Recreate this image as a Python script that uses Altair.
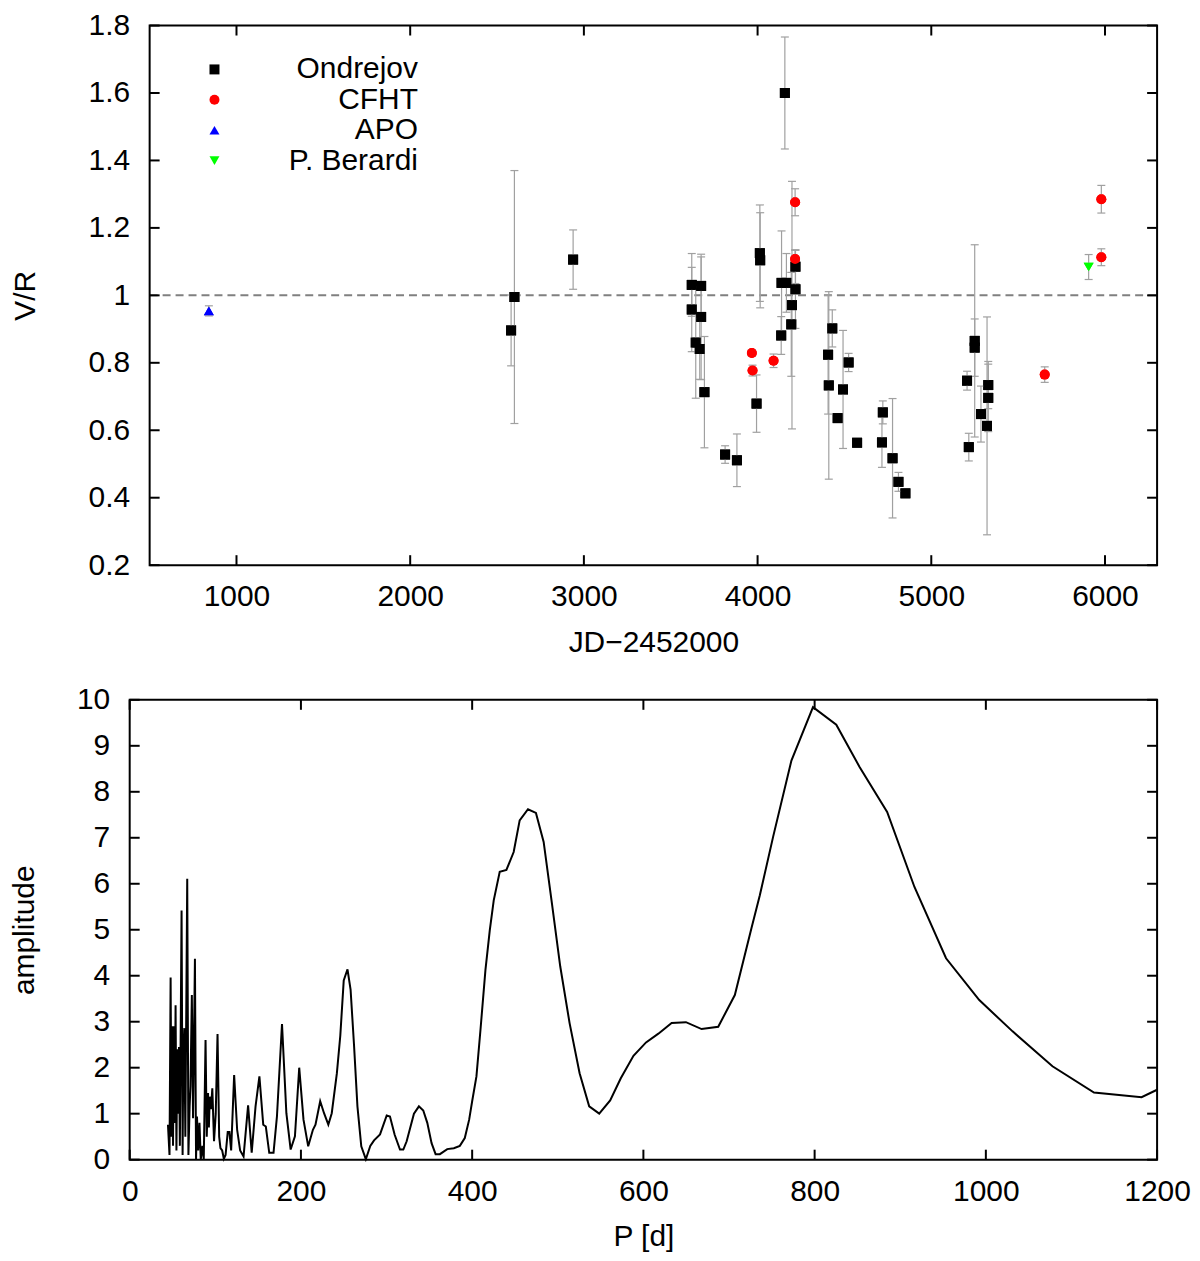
import altair as alt
import pandas as pd

# ---------------- top panel data ----------------
ond_jd = [2581, 2600, 2938, 3621, 3675, 3621, 3675, 3644, 3667, 3694, 3813, 3881, 3994,
          4013, 4015, 4136, 4138, 4166, 4157, 4218, 4218, 4198, 4194, 4406, 4410, 4430,
          4461, 4492, 4524, 4573, 4721, 4716, 4777, 4811, 4851, 5206, 5216, 5250, 5250,
          5286, 5328, 5328, 5321]
ond_vr = [0.896, 0.995, 1.106, 1.031, 1.028, 0.958, 0.936, 0.860, 0.841, 0.713, 0.528, 0.511,
          0.679, 1.125, 1.104, 0.881, 1.037, 1.037, 1.600, 1.085, 1.018, 0.971, 0.914, 0.824,
          0.733, 0.902, 0.636, 0.721, 0.801, 0.563, 0.653, 0.564, 0.517, 0.447, 0.413, 0.747,
          0.550, 0.865, 0.845, 0.648, 0.734, 0.696, 0.613]
ond_err = [0.105, 0.375, 0.088, 0.093, 0.086, 0.125, 0.186, 0.165, 0.09, 0.165, 0.026, 0.078,
           0.085, 0.143, 0.141, 0.056, 0.154, 0.087, 0.166, 0.05, 0.116, 0.367, 0.154, 0.176,
           0.278, 0.055, 0.01, 0.175, 0.027, 0.005, 0.034, 0.074, 0.177, 0.028, 0.01, 0.028,
           0.041, 0.285, 0.085, 0.083, 0.07, 0.1, 0.323]

cfht_jd = [3967, 3971, 4092, 4216, 4216, 5653, 5979, 5979]
cfht_vr = [0.829, 0.777, 0.806, 1.276, 1.108, 0.765, 1.285, 1.113]
cfht_err = [0.01, 0.016, 0.02, 0.04, 0.026, 0.023, 0.041, 0.025]

apo_jd = [841]
apo_vr = [0.954]
apo_err = [0.015]

ber_jd = [5906]
ber_vr = [1.084]
ber_err = [0.037]

sources = ["Ondrejov", "CFHT", "APO", "P. Berardi"]
src_colors = ["#000000", "#ff0000", "#0000ff", "#00ff00"]
src_shapes = ["square", "circle", "triangle-up", "triangle-down"]

top_xticks = [1000, 2000, 3000, 4000, 5000, 6000]
top_yticks = [0.2, 0.4, 0.6, 0.8, 1.0, 1.2, 1.4, 1.6, 1.8]

# ---------------- bottom panel data ----------------
per_p = [44.7, 46.5, 47.8, 48.8, 49.6, 50.6, 51.6, 52.6, 53.6, 54.6, 55.6, 56.6, 57.6, 58.6,
         60.6, 61.8, 62.6, 63.8, 65.0, 67.2, 68.6, 70.0, 71.0, 72.6, 74.0, 76.2, 77.5, 78.6,
         80.0, 81.5, 83.0, 85.0, 86.5, 88.6, 90.0, 91.5, 92.5, 93.5, 95.0, 96.5, 98.5, 100.5,
         102.6, 104.5, 106, 108, 110, 112, 114.5, 116.5, 118.5, 122, 125.5, 129, 133, 138.3,
         142.5, 147, 151.5, 156, 159, 163, 168, 172, 177.9, 183, 188, 193, 198, 203, 208.5,
         214, 217, 222.5, 227, 232, 236, 242, 246, 250, 254.4, 258, 262, 266, 270.5, 275.8,
         281, 285.4, 292.4, 300.2, 304, 309.5, 315.7, 319.6, 323.5, 332, 337.8, 342.9, 347.6,
         352.6, 357.3, 362.3, 370.9, 378.6, 385.6, 391.4, 396.5, 400, 405, 409.7, 415.5,
         420.6, 425.2, 432.2, 440, 448.5, 455.5, 465.2, 474.5, 483.5, 493.2, 502.9, 513.8,
         525.5, 536.7, 548.4, 561.2, 573.6, 588.4, 603.1, 617.5, 633, 649.7, 668, 687.4,
         706.8, 726.2, 736, 751.5, 772.9, 798.1, 825.3, 852.5, 884.7, 916.6, 953.5, 992.3,
         1031.2, 1077.8, 1126.3, 1181.9, 1200]
per_amp = [0.76, 0.1, 3.96, 0.5, 2.9, 0.3, 2.9, 0.8, 3.36, 0.2, 2.4, 1.0, 2.45, 0.3,
           5.42, 0.1, 2.2, 2.86, 0.5, 6.11, 0.1, 1.16, 1.6, 3.58, 0.9, 4.37, 0.0, 0.94,
           0.2, 0.8, 0.0, 0.3, 0.0, 2.6, 0.5, 1.45, 0.7, 1.37, 1.1, 1.55, 0.4, 1.0,
           2.73, 0.5, 0.25, 0.2, 0.02, 0.1, 0.6, 0.6, 0.2, 1.84, 0.65, 0.2, 0.07, 1.18,
           0.15, 1.16, 1.81, 0.76, 0.72, 0.15, 0.15, 0.94, 2.95, 1.01, 0.22, 0.51, 2.0, 0.87, 0.29,
           0.65, 0.76, 1.27, 1.01, 0.76, 1.01, 1.88, 2.7, 3.9, 4.14, 3.7, 2.5, 1.16, 0.29, 0.01,
           0.3, 0.42, 0.55, 0.96, 0.94, 0.54, 0.22, 0.22, 0.40, 1.0, 1.16, 1.07, 0.80,
           0.36, 0.12, 0.12, 0.23, 0.25, 0.30, 0.47, 0.87, 1.27, 1.81, 2.82, 4.12,
           4.99, 5.64, 6.26, 6.30, 6.69, 7.38, 7.62, 7.54, 6.91, 5.57, 4.20, 2.97,
           1.88, 1.16, 1.0, 1.29, 1.77, 2.26, 2.55, 2.74, 2.97, 2.99, 2.84, 2.89,
           3.58, 5.03, 5.75, 7.02, 8.68, 9.84, 9.46, 8.54, 7.56, 5.93, 4.38, 3.47,
           2.79, 2.03, 1.46, 1.36, 1.52]

bot_xticks = [0, 200, 400, 600, 800, 1000, 1200]
bot_yticks = [0, 1, 2, 3, 4, 5, 6, 7, 8, 9, 10]

# ---------------- tables ----------------
rows = []
for name, jds, vrs, errs in [("Ondrejov", ond_jd, ond_vr, ond_err),
                             ("CFHT", cfht_jd, cfht_vr, cfht_err),
                             ("APO", apo_jd, apo_vr, apo_err),
                             ("P. Berardi", ber_jd, ber_vr, ber_err)]:
    for j, v, e in zip(jds, vrs, errs):
        rows.append({"jd": j, "vr": v, "lo": v - e, "hi": v + e, "src": name})
df_top = pd.DataFrame(rows)
df_per = pd.DataFrame({"p": per_p, "amp": per_amp})

FONT = "Liberation Sans"
FS = 30
W = 1030          # full width of both views (bottom frame)
SHIFT = 20        # top frame starts this far right of the bottom frame
TH, BH = 541, 461
TICK = 10
GREY = "#a0a0a0"

xs_top = alt.Scale(domain=[500, 6300], range=[SHIFT, W], nice=False, zero=False)
ys_top = alt.Scale(domain=[0.2, 1.8], nice=False, zero=False)
xs_bot = alt.Scale(domain=[0, 1200], nice=False, zero=False)
ys_bot = alt.Scale(domain=[0, 10], nice=False, zero=False)

def axis(values, fmt, title, lpad, tpad, offset=0):
    return alt.Axis(values=values, format=fmt, title=title, tickSize=0, domain=False,
                    grid=False, labelPadding=lpad, titlePadding=tpad, labelFontSize=FS,
                    titleFontSize=FS, titleFontWeight="normal", labelColor="black",
                    titleColor="black", labelFont=FONT, titleFont=FONT, offset=offset,
                    labelFlush=False, labelOverlap=False)

AX_TOP_X = axis(top_xticks, "d", "JD\u22122452000", 16.5, 16)
AX_TOP_Y = axis(top_yticks, "~g", "V/R", 20, 48, offset=-SHIFT)
AX_BOT_X = axis(bot_xticks, "d", "P [d]", 16.5, 16)
AX_BOT_Y = axis(bot_yticks, "d", "amplitude", 20, 37)

# ---------------- top chart ----------------
base_top = alt.Chart(df_top)
X_T = lambda f: alt.X(f, scale=xs_top, axis=AX_TOP_X)
Y_T = lambda f: alt.Y(f, scale=ys_top, axis=AX_TOP_Y)

frame = alt.Chart(pd.DataFrame({"a": [0]})).mark_rect(
    fillOpacity=0, stroke="black", strokeWidth=2
).encode(x=alt.value(SHIFT), x2=alt.value(W), y=alt.value(0), y2=alt.value(TH))

one_line = alt.Chart(pd.DataFrame({"y": [1.0]})).mark_rule(
    color="#808080", strokeDash=[8, 5], strokeWidth=2
).encode(y=Y_T("y:Q"), x=alt.value(SHIFT), x2=alt.value(W))

err_rules = base_top.mark_rule(color=GREY, strokeWidth=1.2).encode(
    x=X_T("jd:Q"), y=Y_T("lo:Q"), y2="hi:Q"
)
cap_lo = base_top.mark_tick(orient="horizontal", size=8, thickness=1.2, color=GREY, opacity=1).encode(
    x=X_T("jd:Q"), y=Y_T("lo:Q")
)
cap_hi = base_top.mark_tick(orient="horizontal", size=8, thickness=1.2, color=GREY, opacity=1).encode(
    x=X_T("jd:Q"), y=Y_T("hi:Q")
)

leg = alt.Legend(orient="none", legendX=SHIFT + 50, legendY=29, title=None, labelAlign="right",
                 labelOffset=189, labelFontSize=FS, labelFont=FONT, labelColor="black",
                 symbolSize=100, rowPadding=0.5, padding=0, symbolStrokeWidth=0,
                 labelLimit=400)

pts = base_top.mark_point(filled=True, size=100, opacity=1).encode(
    x=X_T("jd:Q"),
    y=Y_T("vr:Q"),
    color=alt.Color("src:N", scale=alt.Scale(domain=sources, range=src_colors), legend=leg),
    shape=alt.Shape("src:N", scale=alt.Scale(domain=sources, range=src_shapes), legend=leg),
)

tx = alt.Chart(pd.DataFrame({"v": top_xticks}))
ty = alt.Chart(pd.DataFrame({"v": top_yticks}))
tick_style = dict(color="black", strokeWidth=2)
top_ticks = [
    tx.mark_rule(**tick_style).encode(x=X_T("v:Q"), y=alt.value(TH), y2=alt.value(TH - TICK)),
    tx.mark_rule(**tick_style).encode(x=X_T("v:Q"), y=alt.value(0), y2=alt.value(TICK)),
    ty.mark_rule(**tick_style).encode(y=Y_T("v:Q"), x=alt.value(SHIFT), x2=alt.value(SHIFT + TICK)),
    ty.mark_rule(**tick_style).encode(y=Y_T("v:Q"), x=alt.value(W), x2=alt.value(W - TICK)),
]

top = alt.layer(pts, one_line, err_rules, cap_lo, cap_hi, *top_ticks, frame, pts).properties(
    width=W, height=TH, view=alt.ViewBackground(stroke="transparent")
)

# ---------------- bottom chart ----------------
X_B = lambda f: alt.X(f, scale=xs_bot, axis=AX_BOT_X)
Y_B = lambda f: alt.Y(f, scale=ys_bot, axis=AX_BOT_Y)

line = alt.Chart(df_per).mark_line(color="black", strokeWidth=2).encode(
    x=X_B("p:Q"), y=Y_B("amp:Q"), order="p:Q"
)
bx = alt.Chart(pd.DataFrame({"v": bot_xticks}))
by = alt.Chart(pd.DataFrame({"v": bot_yticks}))
bot_ticks = [
    bx.mark_rule(**tick_style).encode(x=X_B("v:Q"), y=alt.value(BH), y2=alt.value(BH - TICK)),
    bx.mark_rule(**tick_style).encode(x=X_B("v:Q"), y=alt.value(0), y2=alt.value(TICK)),
    by.mark_rule(**tick_style).encode(y=Y_B("v:Q"), x=alt.value(0), x2=alt.value(TICK)),
    by.mark_rule(**tick_style).encode(y=Y_B("v:Q"), x=alt.value(W), x2=alt.value(W - TICK)),
]
bottom = alt.layer(line, *bot_ticks).properties(width=W, height=BH)

chart = alt.concat(
    top, bottom, columns=1, spacing=25, padding=0,
).configure(
    font=FONT, background="white",
    view=alt.ViewConfig(stroke="black", strokeWidth=2),
)

chart.save("out.html", embed_options={"renderer": "svg", "actions": False})
